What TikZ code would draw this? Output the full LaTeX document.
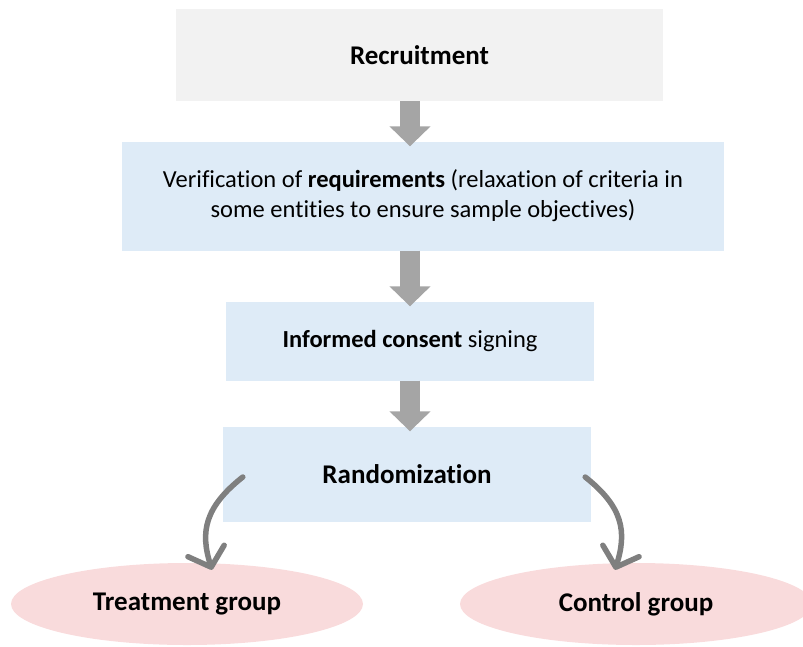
\documentclass[tikz,border=0pt]{standalone}
\usepackage{fontspec}
\setmainfont[Ligatures = NoCommon]{Carlito}
\usetikzlibrary{arrows.meta,shapes.geometric}
\definecolor{boxgray}{HTML}{F2F2F2}
\definecolor{boxblue}{HTML}{DEEBF7}
\definecolor{ovalpink}{HTML}{F9DBDC}
\definecolor{arrowgray}{HTML}{A5A5A5}
\definecolor{curvegray}{HTML}{7F7F7F}

\begin{document}
\begin{tikzpicture}[x = 1pt, y = -1pt, font = \fontsize{24.5}{30}\selectfont,
    stage/.style = {fill = boxblue, inner sep = 0pt, align = center},
    headline/.style = {font = \fontsize{27}{32}\selectfont\bfseries},
    group/.style = {ellipse, fill = ovalpink, inner sep = 0pt, minimum width = 352pt,
      minimum height = 82pt, headline},
    blockarrow/.style = {draw = arrowgray, line width = 20pt, shorten > = -5pt,
      -{Triangle[length = 20pt, width = 40pt]}},
    splitarrow/.style = {draw = curvegray, line width = 5.5pt, line cap = round,
      -{Straight Barb[length = 17pt, width = 38pt, round]}}]
          \clip (0,0) rectangle (803,646);
          \node[stage, fill = boxgray, minimum width = 487pt, minimum height = 92pt, headline]
            (recruit) at (419.5,55) {Recruitment};
          \node[stage, minimum width = 602pt, minimum height = 109pt] (verify) at (423,196)
            {Verification of \textbf{requirements} (relaxation of criteria in\\
             some entities to ensure sample objectives)};
          \node[stage, minimum width = 368pt, minimum height = 79pt] (consent) at (410,341)
            {\textbf{Informed consent} signing};
          \node[stage, minimum width = 368pt, minimum height = 95pt, headline] (random) at (407,474)
            {Randomization};
          \node[group] (treat) at (187,604) {Treatment group};
          \node[group] (control) at (636,604) {Control group};
          \draw[blockarrow] (consent |- recruit.south) -- (consent |- verify.north);
          \draw[blockarrow] (consent |- verify.south) -- (consent.north);
          \draw[blockarrow] (consent.south) -- (consent |- random.north);
          \draw[splitarrow] ([xshift = 20pt, yshift = -3pt]random.west)
            .. controls +(-38,30) and +(-12,-38) .. ([xshift = 25pt, yshift = -7pt]treat.north);
          \draw[splitarrow] ([xshift = -6pt, yshift = -3pt]random.east)
            .. controls +(38,30) and +(12,-38) .. ([xshift = -21pt, yshift = -7pt]control.north);
        \end{tikzpicture}
\end{document}
